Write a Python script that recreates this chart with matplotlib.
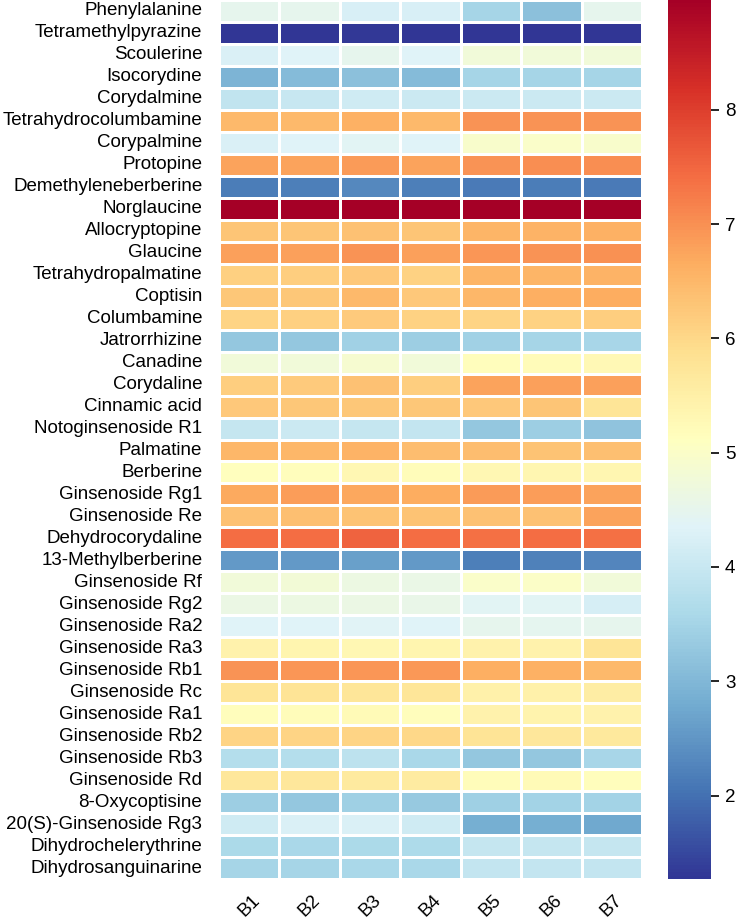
import numpy as np
import pandas as pd
import matplotlib
matplotlib.use("Agg")
import matplotlib.pyplot as plt
import seaborn as sns

# compounds (rows) and samples (columns)
compounds = [
    "Phenylalanine", "Tetramethylpyrazine", "Scoulerine", "Isocorydine",
    "Corydalmine", "Tetrahydrocolumbamine", "Corypalmine", "Protopine",
    "Demethyleneberberine", "Norglaucine", "Allocryptopine", "Glaucine",
    "Tetrahydropalmatine", "Coptisin", "Columbamine", "Jatrorrhizine",
    "Canadine", "Corydaline", "Cinnamic acid", "Notoginsenoside R1",
    "Palmatine", "Berberine", "Ginsenoside Rg1", "Ginsenoside Re",
    "Dehydrocorydaline", "13-Methylberberine", "Ginsenoside Rf",
    "Ginsenoside Rg2", "Ginsenoside Ra2", "Ginsenoside Ra3",
    "Ginsenoside Rb1", "Ginsenoside Rc", "Ginsenoside Ra1",
    "Ginsenoside Rb2", "Ginsenoside Rb3", "Ginsenoside Rd",
    "8-Oxycoptisine", "20(S)-Ginsenoside Rg3", "Dihydrochelerythrine",
    "Dihydrosanguinarine",
]
samples = ["B1", "B2", "B3", "B4", "B5", "B6", "B7"]

values = [
    [4.50, 4.50, 4.23, 4.23, 3.50, 3.15, 4.50],
    [1.30, 1.29, 1.31, 1.29, 1.28, 1.30, 1.27],
    [4.27, 4.35, 4.50, 4.35, 4.77, 4.77, 4.77],
    [2.93, 3.05, 3.15, 3.06, 3.50, 3.50, 3.50],
    [3.90, 4.00, 4.11, 4.04, 4.04, 4.04, 4.04],
    [6.48, 6.48, 6.59, 6.47, 6.95, 6.95, 6.95],
    [4.27, 4.35, 4.42, 4.35, 4.95, 4.98, 4.95],
    [6.79, 6.79, 6.87, 6.78, 6.96, 7.03, 7.02],
    [2.17, 2.18, 2.32, 2.20, 2.12, 2.17, 2.13],
    [8.93, 8.95, 8.96, 8.94, 8.93, 8.95, 8.96],
    [6.31, 6.30, 6.36, 6.30, 6.55, 6.56, 6.60],
    [6.80, 6.82, 6.95, 6.80, 6.94, 6.95, 7.00],
    [6.13, 6.14, 6.24, 6.08, 6.53, 6.55, 6.58],
    [6.27, 6.28, 6.48, 6.24, 6.52, 6.64, 6.65],
    [6.07, 6.12, 6.20, 6.10, 6.05, 6.09, 6.14],
    [3.26, 3.26, 3.44, 3.38, 3.44, 3.50, 3.55],
    [4.77, 4.77, 4.90, 4.77, 5.15, 5.22, 5.27],
    [6.15, 6.20, 6.36, 6.14, 6.78, 6.80, 6.80],
    [6.24, 6.28, 6.28, 6.28, 6.25, 6.30, 5.76],
    [3.96, 4.04, 3.96, 3.94, 3.26, 3.38, 3.20],
    [6.50, 6.50, 6.56, 6.42, 6.42, 6.33, 6.40],
    [5.13, 5.15, 5.30, 5.20, 5.32, 5.35, 5.35],
    [6.70, 6.83, 6.72, 6.65, 6.88, 6.84, 6.78],
    [6.36, 6.39, 6.34, 6.34, 6.36, 6.35, 6.78],
    [7.42, 7.42, 7.52, 7.42, 7.38, 7.40, 7.39],
    [2.56, 2.56, 2.65, 2.55, 2.18, 2.22, 2.27],
    [4.77, 4.79, 4.65, 4.58, 4.98, 5.00, 4.77],
    [4.63, 4.65, 4.63, 4.55, 4.40, 4.40, 4.20],
    [4.35, 4.35, 4.38, 4.35, 4.50, 4.48, 4.50],
    [5.44, 5.37, 5.30, 5.37, 5.44, 5.44, 5.76],
    [6.95, 6.94, 6.94, 6.90, 6.63, 6.60, 6.48],
    [5.76, 5.80, 5.73, 5.73, 5.47, 5.47, 5.55],
    [5.17, 5.20, 5.25, 5.17, 5.44, 5.40, 5.44],
    [6.05, 6.07, 6.05, 5.99, 5.78, 5.70, 5.68],
    [3.71, 3.73, 3.84, 3.58, 3.26, 3.26, 3.55],
    [5.70, 5.70, 5.65, 5.60, 5.20, 5.25, 5.15],
    [3.38, 3.26, 3.43, 3.29, 3.43, 3.48, 3.48],
    [4.10, 4.27, 4.25, 4.12, 2.86, 2.86, 2.75],
    [3.60, 3.57, 3.60, 3.62, 3.96, 3.96, 3.96],
    [3.52, 3.50, 3.58, 3.58, 3.92, 3.92, 3.92],
]

df = pd.DataFrame(values, index=compounds, columns=samples)

plt.rcParams['font.family'] = ['Liberation Sans', 'DejaVu Sans']

fig = plt.figure(figsize=(7.38, 9.22), dpi=100)
ax = fig.add_axes([219 / 738, 43 / 922, 423 / 738, 879 / 922])
cax = fig.add_axes([668 / 738, 43 / 922, 43 / 738, 879 / 922])
ax.set_facecolor("#eaeaf2")

sns.heatmap(df, ax=ax, cbar_ax=cax, cmap="RdYlBu_r",
            linewidths=0.8, linecolor="white")

ax.tick_params(axis="both", length=0, labelsize=13.5)
ax.tick_params(axis="y", pad=12)
ax.set_yticklabels(compounds, rotation=0)
ax.set_xticklabels(samples, rotation=45)
ax.tick_params(axis="x", pad=9)

cax.tick_params(labelsize=13.5, length=6, width=1.2, pad=4)
cax.set_yticks([2, 3, 4, 5, 6, 7, 8])
for s in cax.spines.values():
    s.set_visible(False)

fig.savefig("out.png", dpi=100)
